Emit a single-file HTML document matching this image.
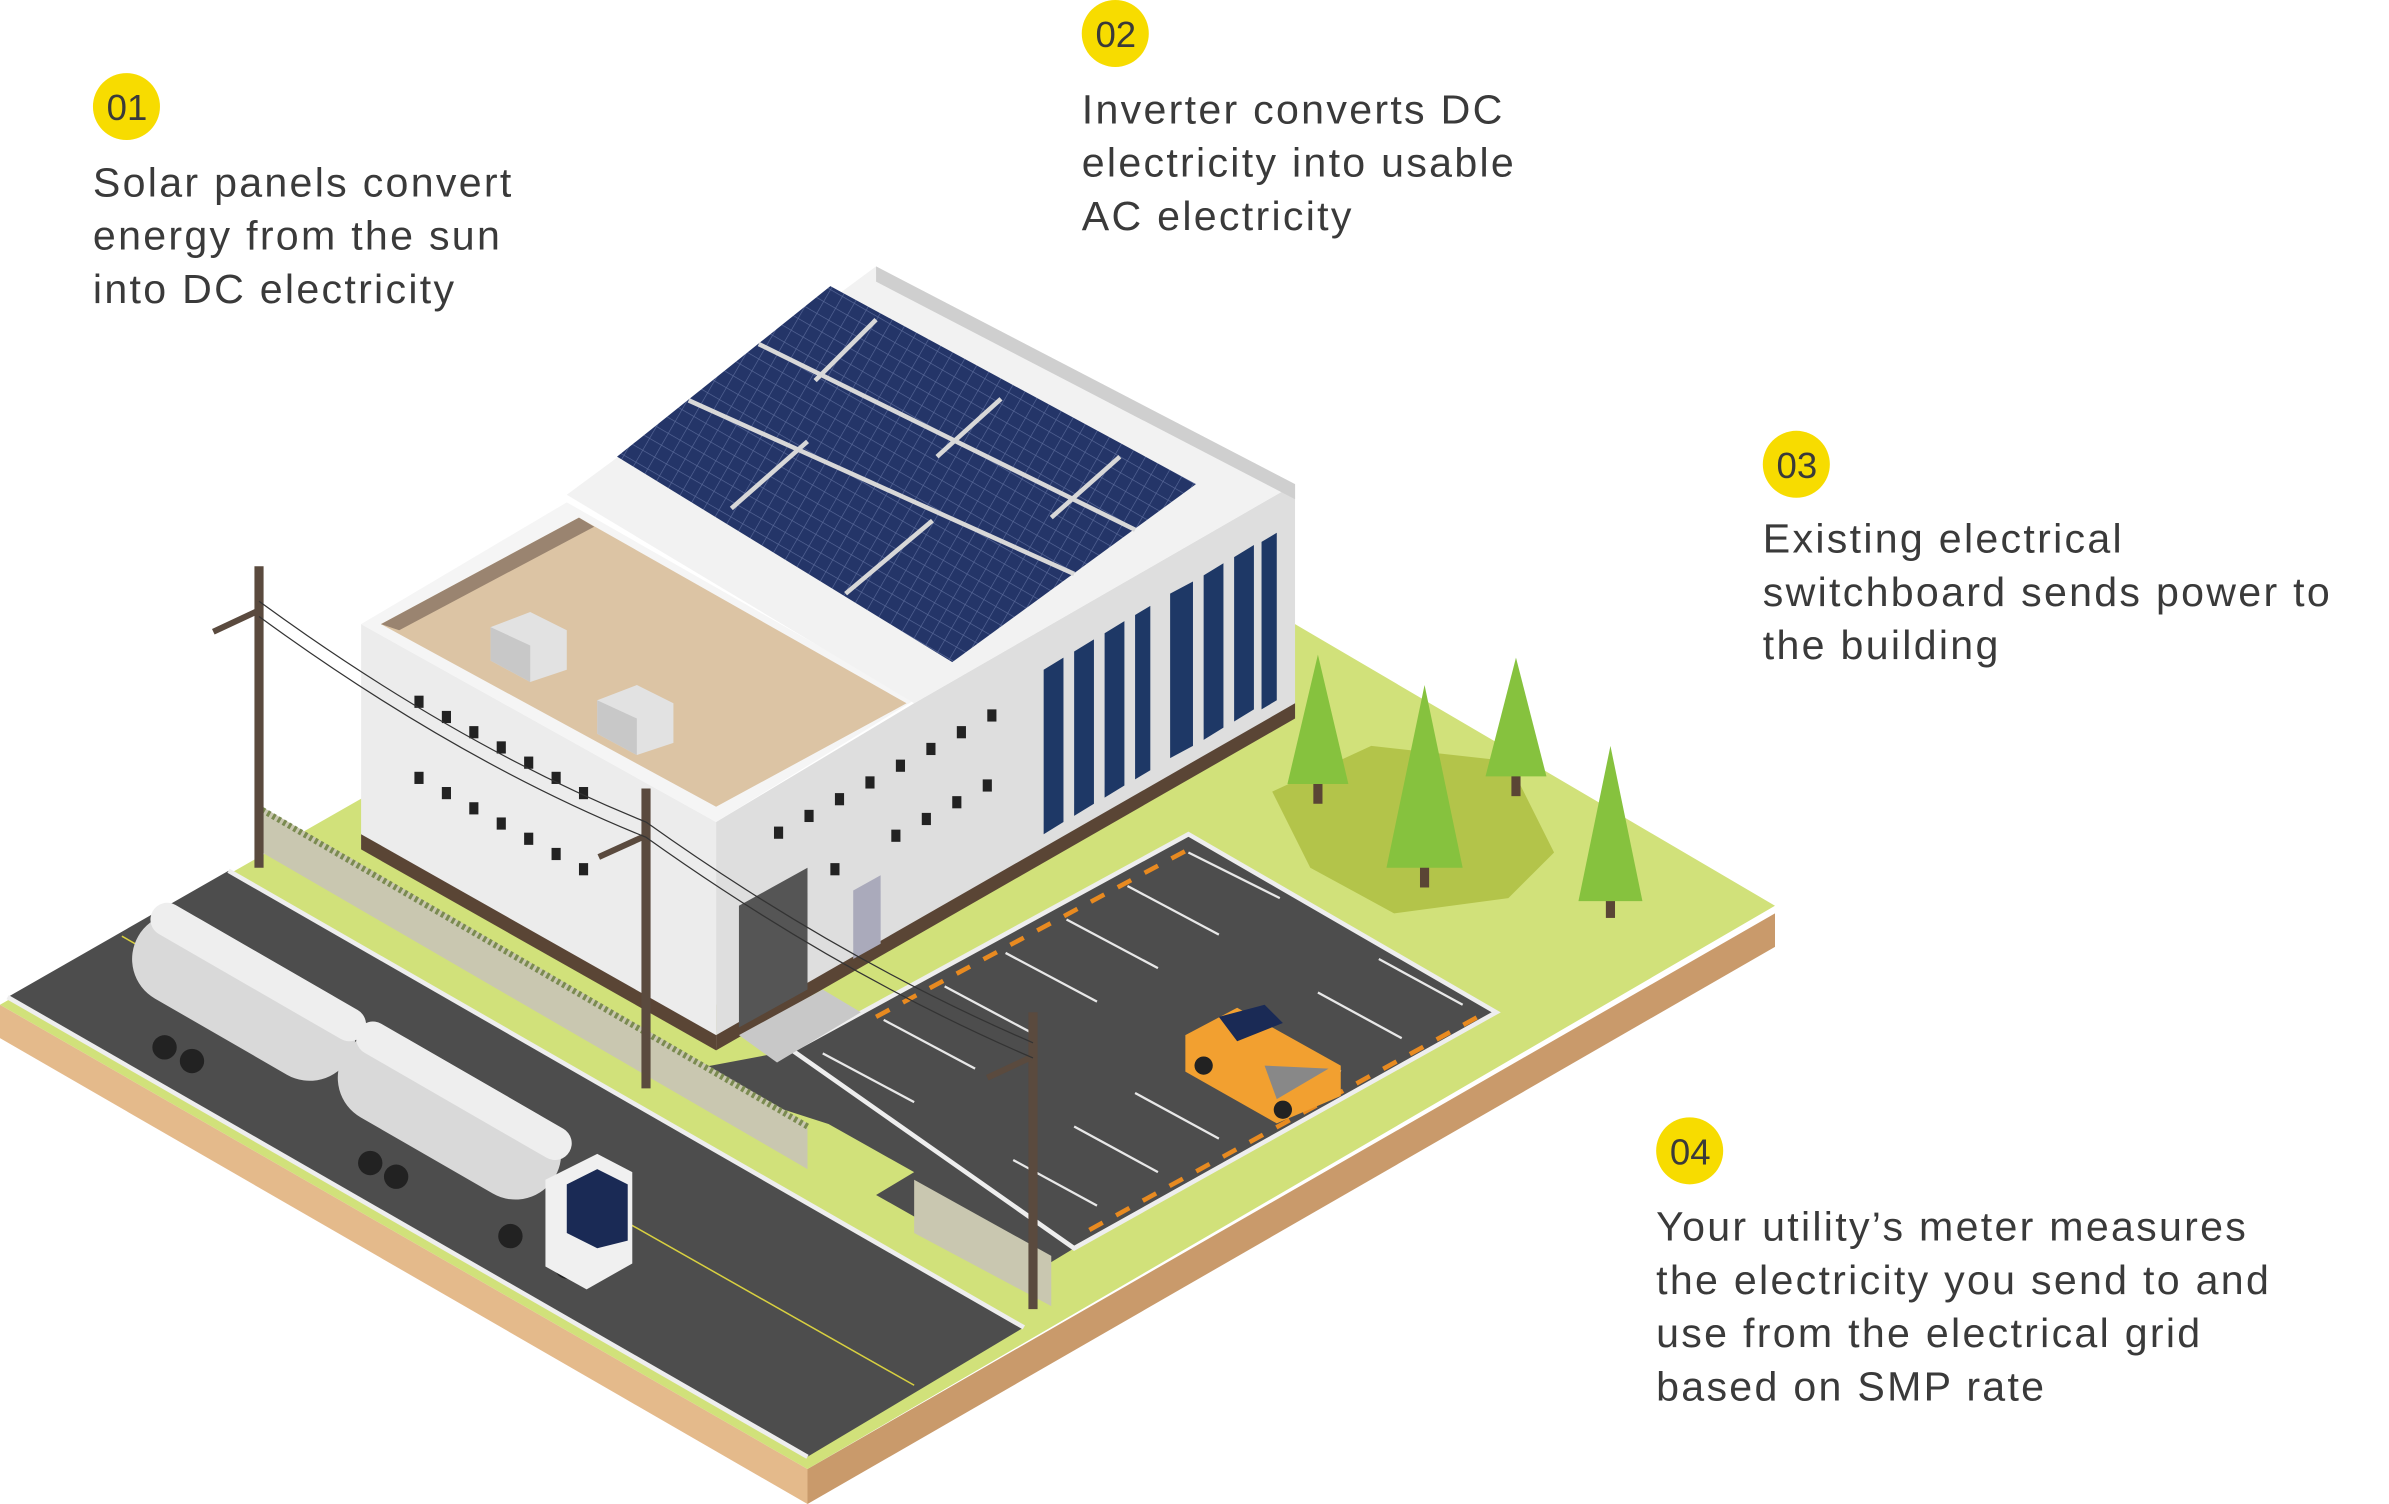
<!DOCTYPE html>
<html><head><meta charset="utf-8"><style>
html,body{margin:0;padding:0;background:#fff;width:2389px;height:1504px;overflow:hidden}
svg{display:block}
text{font-family:"Liberation Sans",sans-serif;fill:#3a3a3a}
</style></head><body>
<svg width="2389" height="1504" viewBox="0 0 1568 988" preserveAspectRatio="none">
<defs>
<pattern id="pv" width="9" height="9" patternUnits="userSpaceOnUse" patternTransform="rotate(30)">
<rect width="9" height="9" fill="#243568"/>
<path d="M0,0 H9 M0,0 V9" stroke="#5a6a9a" stroke-width="0.8"/>
</pattern>
</defs>
<!-- plate sides -->
<polygon points="0,660 530,965 530,988 0,682" fill="#e4ba8b"/>
<polygon points="530,965 1165,600 1165,622 530,988" fill="#c99a6b"/>
<!-- plate top grass -->
<polygon points="0,660 240,523 470,660 850,410 1165,595 530,965" fill="#d1e17a"/>
<!-- road -->
<polygon points="5,655 150,572 672,872 530,957" fill="#4d4d4d"/>
<polyline points="80,615 600,910" stroke="#d8d040" stroke-width="1" fill="none"/>
<polyline points="150,572 672,872" stroke="#eee" stroke-width="3" fill="none"/>
<polyline points="5,655 530,957" stroke="#eee" stroke-width="3" fill="none"/>
<!-- driveway + parking -->
<polygon points="520,690 780,548 982,665 705,820 672,840 575,785 600,770 520,725 580,750 440,705" fill="#4d4d4d"/>
<polygon points="520,690 780,548 982,665 705,820" fill="#4d4d4d" stroke="#eee" stroke-width="3"/>
<g stroke="#e8e8e8" stroke-width="1.5">
<line x1="780" y1="560" x2="840" y2="590"/><line x1="740" y1="582" x2="800" y2="614"/><line x1="700" y1="604" x2="760" y2="636"/><line x1="660" y1="626" x2="720" y2="658"/><line x1="620" y1="648" x2="680" y2="680"/>
<line x1="580" y1="670" x2="640" y2="702"/><line x1="540" y1="692" x2="600" y2="724"/>
<line x1="905" y1="630" x2="960" y2="660"/><line x1="865" y1="652" x2="920" y2="682"/><line x1="825" y1="674" x2="880" y2="704"/>
<line x1="745" y1="718" x2="800" y2="748"/><line x1="705" y1="740" x2="760" y2="770"/><line x1="665" y1="762" x2="720" y2="792"/>
</g>
<polyline points="575,668 780,558" stroke="#e88a20" stroke-width="3" stroke-dasharray="10,10" fill="none"/>
<polyline points="715,808 970,668" stroke="#e88a20" stroke-width="3" stroke-dasharray="10,10" fill="none"/>
<!-- tree patch -->
<polygon points="835,520 900,490 990,500 1020,560 990,590 915,600 860,570" fill="#b3c44a"/>
<!-- building left face -->
<polygon points="237,410 470,540 470,688 237,555" fill="#ececec"/>
<polygon points="237,548 470,680 470,690 237,558" fill="#5a4535"/>
<!-- right face incl gable -->
<polygon points="470,540 600,462 850,318 850,470 470,688" fill="#dedede"/>
<polygon points="470,680 850,462 850,472 470,690" fill="#5a4535"/>
<!-- flat roof -->
<polygon points="237,410 372,330 600,460 470,540" fill="#f5f5f5"/>
<polygon points="250,410 380,340 595,462 470,530" fill="#dcc4a4"/>
<polygon points="250,410 380,340 390,346 262,414" fill="#9a8470"/>
<!-- pitched roof -->
<polygon points="372,325 575,175 850,318 600,462" fill="#f2f2f2"/>
<polygon points="575,175 850,318 850,328 575,185" fill="#cfcfcf"/>
<polygon points="405,300 545,188 785,318 625,435" fill="url(#pv)"/>
<g stroke="#d8d8d8" stroke-width="3">
<line x1="452" y1="263" x2="705" y2="377"/><line x1="498" y1="226" x2="745" y2="348"/>
<line x1="480" y1="334" x2="530" y2="290"/><line x1="555" y1="390" x2="612" y2="342"/><line x1="535" y1="250" x2="575" y2="210"/><line x1="615" y1="300" x2="657" y2="262"/><line x1="690" y1="340" x2="735" y2="300"/>
</g>
<!-- windows on right face -->
<g fill="#1e3866">
<polygon points="685,440 698,432 698,540 685,548"/><polygon points="705,428 718,420 718,528 705,536"/><polygon points="725,416 738,408 738,516 725,524"/><polygon points="745,404 755,398 755,506 745,512"/>
<polygon points="768,390 783,382 783,490 768,498"/><polygon points="790,378 803,370 803,478 790,486"/><polygon points="810,366 823,358 823,466 810,474"/><polygon points="828,356 838,350 838,460 828,466"/>
</g>
<g fill="#222">
<rect x="272" y="457" width="6" height="8"/><rect x="290" y="467" width="6" height="8"/><rect x="308" y="477" width="6" height="8"/><rect x="326" y="487" width="6" height="8"/><rect x="344" y="497" width="6" height="8"/><rect x="362" y="507" width="6" height="8"/><rect x="380" y="517" width="6" height="8"/>
<rect x="272" y="507" width="6" height="8"/><rect x="290" y="517" width="6" height="8"/><rect x="308" y="527" width="6" height="8"/><rect x="326" y="537" width="6" height="8"/><rect x="344" y="547" width="6" height="8"/><rect x="362" y="557" width="6" height="8"/><rect x="380" y="567" width="6" height="8"/>
<rect x="508" y="543" width="6" height="8"/><rect x="528" y="532" width="6" height="8"/><rect x="548" y="521" width="6" height="8"/><rect x="568" y="510" width="6" height="8"/><rect x="588" y="499" width="6" height="8"/><rect x="608" y="488" width="6" height="8"/><rect x="628" y="477" width="6" height="8"/><rect x="648" y="466" width="6" height="8"/>
<rect x="545" y="567" width="6" height="8"/><rect x="585" y="545" width="6" height="8"/><rect x="605" y="534" width="6" height="8"/><rect x="625" y="523" width="6" height="8"/><rect x="645" y="512" width="6" height="8"/>
</g>
<polygon points="485,595 530,570 530,650 485,675" fill="#555"/>
<polygon points="560,585 578,575 578,620 560,630" fill="#aab"/>
<polygon points="485,680 540,650 565,665 510,698" fill="#c8c8c8"/>
<!-- AC units -->
<polygon points="322,412 348,402 372,414 372,440 348,448 322,434" fill="#e2e2e2"/>
<polygon points="322,412 348,424 348,448 322,434" fill="#c8c8c8"/>
<polygon points="392,460 418,450 442,462 442,488 418,496 392,482" fill="#e2e2e2"/>
<polygon points="392,460 418,472 418,496 392,482" fill="#c8c8c8"/>
<!-- fence -->
<polygon points="172,530 530,738 530,768 172,560" fill="#c9c7b0"/>
<polyline points="172,532 530,740" stroke="#7a8a50" stroke-width="4" stroke-dasharray="2,2" fill="none"/>
<polygon points="600,775 690,825 690,858 600,810" fill="#c9c7b0"/>
<!-- poles -->
<g stroke="#5a4a3e" stroke-width="6">
<line x1="170" y1="372" x2="170" y2="570"/><line x1="424" y1="518" x2="424" y2="715"/><line x1="678" y1="665" x2="678" y2="860"/>
<line x1="140" y1="415" x2="172" y2="400" stroke-width="4"/><line x1="393" y1="563" x2="426" y2="548" stroke-width="4"/><line x1="648" y1="708" x2="680" y2="693" stroke-width="4"/>
</g>
<g stroke="#333" stroke-width="0.8" fill="none">
<path d="M170,405 Q300,500 424,550"/><path d="M170,395 Q300,490 424,540"/><path d="M424,550 Q550,640 678,695"/><path d="M424,540 Q550,630 678,685"/>
</g>
<!-- trees -->
<g fill="#5a4535"><rect x="862" y="510" width="6" height="18"/><rect x="932" y="565" width="6" height="18"/><rect x="992" y="505" width="6" height="18"/><rect x="1054" y="585" width="6" height="18"/></g>
<g fill="#86c23e">
<polygon points="865,430 885,515 845,515"/><polygon points="935,450 960,570 910,570"/><polygon points="995,432 1015,510 975,510"/><polygon points="1057,490 1078,592 1036,592"/>
</g>
<!-- tankers -->
<g transform="rotate(30 160 655)"><rect x="80" y="625" width="160" height="60" rx="30" fill="#d9d9d9"/><rect x="80" y="625" width="160" height="22" rx="11" fill="#eeeeee"/></g>
<g transform="rotate(30 295 733)"><rect x="215" y="703" width="160" height="60" rx="30" fill="#d9d9d9"/><rect x="215" y="703" width="160" height="22" rx="11" fill="#eeeeee"/></g>
<g fill="#222"><circle cx="108" cy="688" r="8"/><circle cx="126" cy="697" r="8"/><circle cx="243" cy="764" r="8"/><circle cx="260" cy="773" r="8"/><circle cx="335" cy="812" r="8"/><circle cx="372" cy="832" r="8"/></g>
<polygon points="358,775 392,758 415,770 415,830 385,847 358,832" fill="#f0f0f0"/>
<polygon points="372,778 392,768 412,778 412,815 392,820 372,810" fill="#1a2a55"/>
<!-- pickup -->
<polygon points="778,680 812,662 880,700 880,720 838,738 778,704" fill="#f2a030"/>
<polygon points="800,668 830,660 842,672 812,684" fill="#1a2a55"/>
<polygon points="830,700 872,702 838,722" fill="#888"/>
<g fill="#222"><circle cx="790" cy="700" r="6"/><circle cx="842" cy="729" r="6"/></g>
<!-- circles + text -->
<g fill="#f7dc00"><circle cx="83" cy="70" r="22"/><circle cx="732" cy="22" r="22"/><circle cx="1179" cy="305" r="22"/><circle cx="1109" cy="756" r="22"/></g>
<g font-size="24"><text x="70" y="79">01</text><text x="719" y="31">02</text><text x="1166" y="314">03</text><text x="1096" y="765">04</text></g>
<g font-size="27" letter-spacing="1.5">
<text x="61" y="129">Solar panels convert</text><text x="61" y="164">energy from the sun</text><text x="61" y="199">into DC electricity</text>
<text x="710" y="81">Inverter converts DC</text><text x="710" y="116">electricity into usable</text><text x="710" y="151">AC electricity</text>
<text x="1157" y="363">Existing electrical</text><text x="1157" y="398">switchboard sends power to</text><text x="1157" y="433">the building</text>
<text x="1087" y="815">Your utility’s meter measures</text><text x="1087" y="850">the electricity you send to and</text><text x="1087" y="885">use from the electrical grid</text><text x="1087" y="920">based on SMP rate</text>
</g>
</svg>
</body></html>
